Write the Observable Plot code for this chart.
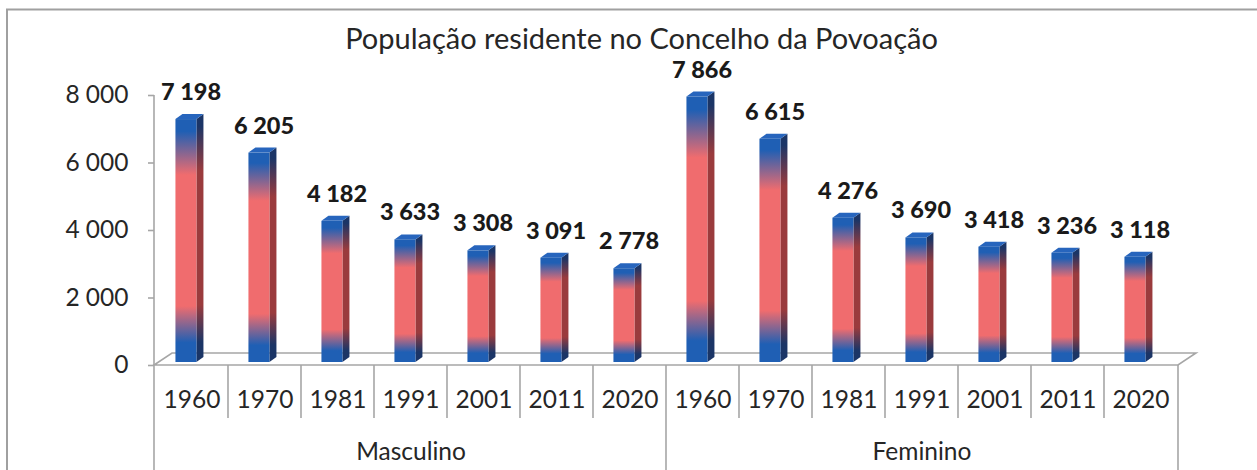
<!DOCTYPE html>
<html>
<head>
<meta charset="utf-8">
<script src="https://cdn.jsdelivr.net/npm/d3@7"></script>
<script src="https://cdn.jsdelivr.net/npm/@observablehq/plot@0.6"></script>
<style>
  html, body { margin: 0; padding: 0; background: #fff; }
  #chart svg { display: block; }
</style>
</head>
<body>
<div id="chart"></div>
<script>
const title = "População residente no Concelho da Povoação";
const groups = ["Masculino", "Feminino"];
const years = ["1960", "1970", "1981", "1991", "2001", "2011", "2020"];
const masculino = [7198, 6205, 4182, 3633, 3308, 3091, 2778];
const feminino = [7866, 6615, 4276, 3690, 3418, 3236, 3118];
const yTicks = [0, 2000, 4000, 6000, 8000];

const seriesByGroup = [masculino, feminino];
const data = [];
groups.forEach((g, gi) => years.forEach((yr, i) =>
  data.push({group: g, year: yr, key: g + " " + yr, value: seriesByGroup[gi][i]})));
const keys = data.map(d => d.key);
const groupLabels = groups.map((g, gi) => ({group: g, key: keys[gi * years.length + 3]}));

const fmt = v => String(v).replace(/\B(?=(\d{3})+(?!\d))/g, " ");
const FONT = "Lato, 'Open Sans', sans-serif";
const GRAY = "#a6a6a6";
const TXT = "#262626";

// decorations: outer border, floor parallelogram, category separators
function decor(index, scales, values, dimensions) {
  const g = d3.create("svg:g");
  const {width, height, marginLeft, marginRight} = dimensions;
  const x0 = marginLeft, x1 = width - marginRight;
  const y0 = scales.y(0);
  // outer border
  g.append("path").attr("d", `M7,${height}V9.5H${width}`).attr("fill", "none")
    .attr("stroke", "#a0a0a0").attr("stroke-width", 2);
  // floor
  g.append("path")
    .attr("d", `M${x0},${y0}L${x1},${y0}L${x1 + 18},${y0 - 12}L${x0 + 18},${y0 - 12}Z`)
    .attr("fill", "none").attr("stroke", GRAY).attr("stroke-width", 1.6);
  // axis line
  g.append("line").attr("x1", x0).attr("x2", x0).attr("y1", scales.y(8000)).attr("y2", height)
    .attr("stroke", GRAY).attr("stroke-width", 1.6);
  // separators
  keys.forEach((k, i) => {
    if (i === 0) return;
    const xx = scales.x(k);
    const full = i % years.length === 0;
    g.append("line").attr("x1", xx).attr("x2", xx).attr("y1", y0).attr("y2", full ? height : y0 + 53)
      .attr("stroke", GRAY).attr("stroke-width", 1.6);
  });
  g.append("line").attr("x1", x1).attr("x2", x1).attr("y1", y0).attr("y2", height)
    .attr("stroke", GRAY).attr("stroke-width", 1.6);
  return g.node();
}

const bars3d = Plot.barY(data, {
  x: "key", y: "value",
  render(index, scales) {
    const g = d3.create("svg:g");
    const defs = g.append("defs");
    const grad = (id, c1, c2) => {
      const lg = defs.append("linearGradient").attr("id", id)
        .attr("x1", 0).attr("x2", 0).attr("y1", 0).attr("y2", 1);
      [[0, c1], [0.05, c1], [0.23, c2], [0.77, c2], [0.92, c1], [1, c1]].forEach(([o, c]) =>
        lg.append("stop").attr("offset", o).attr("stop-color", c));
    };
    grad("gFront", "#1f5fb4", "#f06c6e");
    grad("gSide", "#1b3566", "#9a3b3d");
    const bw = scales.x.bandwidth();
    const ddx = 7, ddy = -5;
    for (const i of index) {
      const d = data[i];
      const b = scales.x(d.key);
      const fx0 = b + bw * 0.28, fx1 = fx0 + 21;
      const yb = scales.y(0) - 3, yt = scales.y(d.value) - 3;
      g.append("path")
        .attr("d", `M${fx1},${yt}L${fx1 + ddx},${yt + ddy}L${fx1 + ddx},${yb + ddy}L${fx1},${yb}Z`)
        .attr("fill", "url(#gSide)");
      g.append("path")
        .attr("d", `M${fx0},${yt}L${fx0 + ddx},${yt + ddy}L${fx1 + ddx},${yt + ddy}L${fx1},${yt}Z`)
        .attr("fill", "#2765bd");
      g.append("rect").attr("x", fx0).attr("y", yt).attr("width", fx1 - fx0).attr("height", yb - yt)
        .attr("fill", "url(#gFront)");
    }
    return g.node();
  }
});

const chart = Plot.plot({
  width: 1257,
  height: 470,
  marginLeft: 154,
  marginRight: 79,
  marginTop: 95,
  marginBottom: 105,
  style: {fontFamily: FONT, background: "#fff", color: TXT},
  x: {domain: keys, padding: 0, axis: null},
  y: {domain: [0, 8000], axis: null},
  marks: [
    decor,
    Plot.axisY({ticks: yTicks, tickFormat: fmt, tickSize: 6, tickPadding: 20, fontSize: 24.5,
      stroke: GRAY, strokeWidth: 1.6, fill: TXT, label: null}),
    bars3d,
    Plot.text(data, {x: "key", y: "value", text: d => fmt(d.value), dy: -30, dx: -1,
      fontSize: 23.5, fontWeight: 900, fill: "#1a1a1a", lineAnchor: "middle"}),
    Plot.text(data, {x: "key", text: "year", frameAnchor: "bottom", dy: 35,
      fontSize: 24.5, fill: TXT, lineAnchor: "middle"}),
    Plot.text(groupLabels, {x: "key", text: "group", frameAnchor: "bottom", dy: 87,
      fontSize: 24.5, fill: TXT, lineAnchor: "middle"}),
    Plot.text([title], {text: d => d, frameAnchor: "top", dy: -56, dx: -25,
      fontSize: 29, fill: TXT, lineAnchor: "middle"})
  ]
});
document.getElementById("chart").appendChild(chart);
</script>
</body>
</html>
